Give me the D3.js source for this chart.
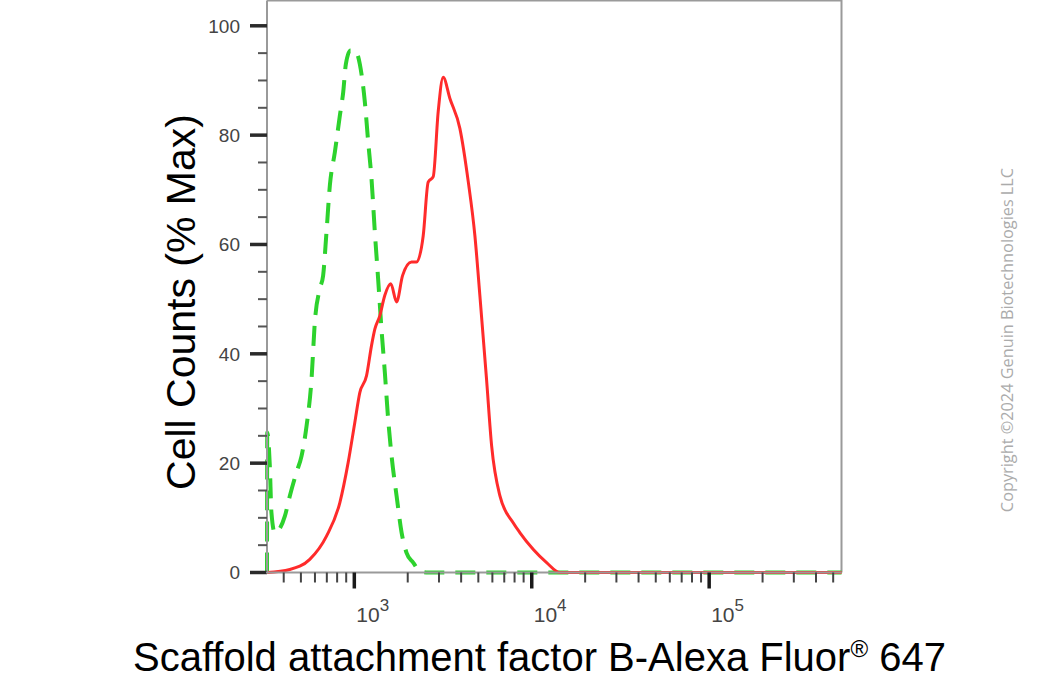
<!DOCTYPE html>
<html>
<head>
<meta charset="utf-8">
<script src="https://cdn.jsdelivr.net/npm/d3@7/dist/d3.min.js"></script>
<style>
  html, body { margin: 0; padding: 0; background: #fff; }
  svg { display: block; }
</style>
</head>
<body>
<svg id="chart" width="1061" height="685"></svg>
<script>
// ---- data ----
const yMajorTicks = [0, 20, 40, 60, 80, 100];
const yMinorTicks = [5, 10, 15, 25, 30, 35, 45, 50, 55, 65, 70, 75, 85, 90, 95];
const xMajorExponents = [3, 4, 5];
const xMinorTicks = [400, 500, 600, 700, 800, 900,
  2000, 3000, 4000, 5000, 6000, 7000, 8000, 9000,
  20000, 30000, 40000, 50000, 60000, 70000, 80000, 90000,
  200000, 300000, 400000, 500000];

// Isotype control (green dashed)
const controlX = [322, 323, 334, 341, 356, 406, 433, 472, 504, 538, 574, 599, 639, 667, 697, 728, 777, 829, 866, 896, 950, 1010, 1074, 1146, 1197, 1250, 1305, 1362, 1423, 1486, 1552, 1622, 1731, 1847, 1970, 2147, 2340, 2600, 557000];
const controlY = [0, 25.6, 19.5, 11, 7.3, 10.3, 14, 18.3, 21.3, 26.8, 35.4, 45.8, 51.9, 54.3, 62.3, 70.8, 76.9, 83.6, 87.9, 93, 95.5, 95.5, 93, 86.1, 78.8, 72, 62.3, 53.7, 44.5, 36.6, 28, 21.3, 14, 7.3, 3.6, 1.8, 0.3, 0, 0];

// Stained sample (red solid)
const sampleX = [322, 433, 561, 697, 829, 923, 1006, 1074, 1172, 1250, 1305, 1393, 1486, 1606, 1731, 1870, 2100, 2243, 2445, 2608, 2784, 2970, 3168, 3457, 3937, 4391, 4782, 5100, 5560, 5940, 6618, 7859, 8566, 10210, 12130, 14410, 557000];
const sampleY = [0, 0.55, 2.4, 6.65, 12.8, 20.1, 27.4, 32.9, 36, 41.5, 44.5, 47, 50.7, 52.8, 49.5, 54.3, 56.8, 56.8, 61.6, 71.4, 72.4, 84.3, 90.6, 86.7, 81.2, 71.4, 61.6, 50.7, 35.4, 23.2, 14, 9.1, 7.3, 4.2, 1.8, 0, 0];

const yTitle = "Cell Counts (% Max)";
const xTitleMain = "Scaffold attachment factor B-Alexa Fluor";
const xTitleSup = "®";
const xTitleEnd = " 647";
const copyright = "Copyright ©2024 Genuin Biotechnologies LLC";

// ---- layout ----
const pL = 267, pR = 841.5, pT = 0.5, pB = 572.5;
const svg = d3.select("#chart");

const x = d3.scaleLog().domain([322, 557000]).range([pL, pR]);
const y = d3.scaleLinear().domain([0, (pB - pT) / 5.467]).range([pB, pT]);

// frame (top & right)
svg.append("path")
  .attr("d", `M${pL},${pT}H${pR}V${pB}`)
  .attr("fill", "none").attr("stroke", "#9a9a9a").attr("stroke-width", 2);

// curves
const line = (xs, ys) => d3.line()
  .x((d, i) => x(xs[i]))
  .y((d, i) => y(ys[i]))
  .curve(d3.curveMonotoneX)(xs);

svg.append("path")
  .attr("d", line(controlX, controlY))
  .attr("fill", "none").attr("stroke", "#2dd22d").attr("stroke-width", 4)
  .attr("stroke-dasharray", "20,11");

svg.append("path")
  .attr("d", line(sampleX, sampleY))
  .attr("fill", "none").attr("stroke", "#ff2b2b").attr("stroke-width", 3)
  .attr("stroke-linejoin", "round");

// y axis
svg.append("line").attr("x1", pL).attr("x2", pL).attr("y1", pT).attr("y2", pB + 1)
  .attr("stroke", "#9a9a9a").attr("stroke-width", 2);
svg.selectAll(".ymin").data(yMinorTicks).enter().append("line")
  .attr("x1", pL - 9).attr("x2", pL).attr("y1", d => y(d)).attr("y2", d => y(d))
  .attr("stroke", "#555").attr("stroke-width", 2);
svg.selectAll(".ymaj").data(yMajorTicks).enter().append("line")
  .attr("x1", pL - 17).attr("x2", pL).attr("y1", d => y(d)).attr("y2", d => y(d))
  .attr("stroke", "#2a2a2a").attr("stroke-width", 3.5);
svg.selectAll(".ylab").data(yMajorTicks).enter().append("text")
  .attr("x", 240).attr("y", d => y(d)).attr("dy", "0.36em")
  .attr("text-anchor", "end")
  .attr("font-family", "Liberation Sans, Arial, sans-serif").attr("font-size", 19)
  .attr("fill", "#444").text(d => d);

// x axis
svg.append("line").attr("x1", pL - 1).attr("x2", pR).attr("y1", pB).attr("y2", pB)
  .attr("stroke", "#9a9a9a").attr("stroke-width", 2);
svg.selectAll(".xmin").data(xMinorTicks).enter().append("line")
  .attr("x1", d => x(d)).attr("x2", d => x(d)).attr("y1", pB).attr("y2", pB + 10)
  .attr("stroke", "#444").attr("stroke-width", 2);
svg.selectAll(".xmaj").data(xMajorExponents).enter().append("line")
  .attr("x1", d => x(Math.pow(10, d))).attr("x2", d => x(Math.pow(10, d)))
  .attr("y1", pB).attr("y2", pB + 16)
  .attr("stroke", "#1a1a1a").attr("stroke-width", 3.5);
const xl = svg.selectAll(".xlab").data(xMajorExponents).enter().append("text")
  .attr("x", d => x(Math.pow(10, d)) + 2).attr("y", 622)
  .attr("font-family", "Liberation Sans, Arial, sans-serif").attr("font-size", 21)
  .attr("fill", "#444");
xl.append("tspan").text("10");
xl.append("tspan").attr("dy", -11).attr("font-size", 17).text(d => d);

// titles
svg.append("text")
  .attr("transform", "translate(195,302) rotate(-90)")
  .attr("text-anchor", "middle")
  .attr("font-family", "Liberation Sans, Arial, sans-serif").attr("font-size", 41)
  .attr("fill", "#000").text(yTitle);

const xt = svg.append("text")
  .attr("x", 133).attr("y", 671)
  .attr("font-family", "Liberation Sans, Arial, sans-serif").attr("font-size", 40)
  .attr("fill", "#000");
xt.append("tspan").text(xTitleMain);
xt.append("tspan").attr("dy", -14).attr("font-size", 24).text(xTitleSup);
xt.append("tspan").attr("dy", 14).text(xTitleEnd);

svg.append("text")
  .attr("transform", "translate(1013,340) rotate(-90)")
  .attr("text-anchor", "middle")
  .attr("font-family", "Open Sans, sans-serif").attr("font-size", 16.3)
  .attr("fill", "#ababab").text(copyright);
</script>
</body>
</html>
